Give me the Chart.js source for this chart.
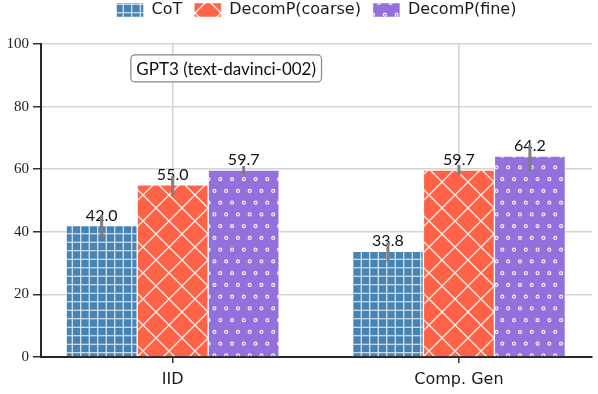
<!DOCTYPE html>
<html>
<head>
<meta charset="utf-8">
<script src="https://cdn.jsdelivr.net/npm/chart.js@4.4.0/dist/chart.umd.min.js"></script>
<style>
  html, body { margin: 0; padding: 0; background: #fff; }
</style>
</head>
<body>
<canvas id="chart" width="598" height="394"></canvas>
<script>
const categories = ["IID", "Comp. Gen"];
const methods = ["CoT", "DecomP(coarse)", "DecomP(fine)"];
const cotValues = [42.0, 33.8];
const coarseValues = [55.0, 59.7];
const fineValues = [59.7, 64.2];
const cotLow = [38.3, 30.4];
const cotHigh = [45.4, 36.5];
const coarseLow = [51.4, 58.1];
const coarseHigh = [57.8, 61.3];
const fineLow = [58.1, 59.2];
const fineHigh = [61.0, 67.7];
const yTicks = [0, 20, 40, 60, 80, 100];
const noteText = "GPT3 (text-davinci-002)";

const LATO = "Lato, 'DejaVu Sans', sans-serif";
const DEJAVU = "'DejaVu Sans', sans-serif";
const SERIF = "'Liberation Serif', 'DejaVu Serif', serif";

function makeTile(size, base, draw) {
  const c = document.createElement("canvas");
  c.width = size;
  c.height = size;
  const g = c.getContext("2d");
  g.fillStyle = base;
  g.fillRect(0, 0, size, size);
  g.strokeStyle = "rgba(255,255,255,0.9)";
  draw(g, size);
  return g.createPattern(c, "repeat");
}

const plusHatch = (base) => makeTile(17, base, (g) => {
  g.lineWidth = 1.1;
  g.beginPath();
  [4.25, 12.75].forEach((p) => {
    g.moveTo(p, 0); g.lineTo(p, 17);
    g.moveTo(0, p); g.lineTo(17, p);
  });
  g.stroke();
});

const crossHatch = (base) => makeTile(26, base, (g, s) => {
  g.lineWidth = 1.3;
  g.beginPath();
  g.moveTo(-2, -2); g.lineTo(s + 2, s + 2);
  g.moveTo(-2, s + 2); g.lineTo(s + 2, -2);
  g.stroke();
});

const dotHatch = (base) => makeTile(47, base, (g, s) => {
  const step = s / 4;
  g.lineWidth = 1.2;
  for (let r = 0; r <= 4; r++) {
    for (let k = -1; k <= 4; k++) {
      const x = k * step + (r % 2 ? step / 2 : 0) + step / 4;
      const y = r * step + step / 4;
      g.beginPath();
      g.arc(x, y, 1.5, 0, Math.PI * 2);
      g.stroke();
    }
  }
});

const series = [
  { values: cotValues, low: cotLow, high: cotHigh, bg: plusHatch("#4682b4") },
  { values: coarseValues, low: coarseLow, high: coarseHigh, bg: crossHatch("#ff6347") },
  { values: fineValues, low: fineLow, high: fineHigh, bg: dotHatch("#9370db") }
];

const barExtras = {
  id: "barExtras",
  afterDatasetsDraw(chart) {
    const { ctx, scales } = chart;
    ctx.save();
    series.forEach((s, i) => {
      const meta = chart.getDatasetMeta(i);
      meta.data.forEach((bar, j) => {
        ctx.fillStyle = "#111";
        ctx.font = "16px " + LATO;
        ctx.textAlign = "center";
        ctx.textBaseline = "alphabetic";
        ctx.fillText(s.values[j].toFixed(1), bar.x, bar.y - 5);
      });
    });
    series.forEach((s, i) => {
      const meta = chart.getDatasetMeta(i);
      meta.data.forEach((bar, j) => {
        ctx.strokeStyle = "#7f7f7f";
        ctx.lineWidth = 3;
        ctx.beginPath();
        ctx.moveTo(bar.x, scales.y.getPixelForValue(s.low[j]));
        ctx.lineTo(bar.x, scales.y.getPixelForValue(s.high[j]));
        ctx.stroke();
      });
    });

    // text box in the upper left
    const cx = scales.x.getPixelForValue(0.187);
    const cy = scales.y.getPixelForValue(92.2);
    ctx.font = "17px " + LATO;
    const w = ctx.measureText(noteText).width + 11;
    const h = 27;
    ctx.beginPath();
    ctx.roundRect(cx - w / 2, cy - h / 2, w, h, 4);
    ctx.fillStyle = "#fff";
    ctx.fill();
    ctx.strokeStyle = "#888";
    ctx.lineWidth = 1.2;
    ctx.stroke();
    ctx.fillStyle = "#111";
    ctx.textAlign = "center";
    ctx.textBaseline = "middle";
    ctx.fillText(noteText, cx, cy + 1);
    ctx.restore();
  }
};

const legendHeight = {
  id: "legendHeight",
  beforeInit(chart) {
    const fit = chart.legend.fit;
    chart.legend.fit = function () {
      fit.call(this);
      this.height = 54;
    };
  }
};

new Chart(document.getElementById("chart"), {
  type: "bar",
  data: {
    datasets: series.map((s, i) => ({
      label: methods[i],
      data: s.values.map((v, j) => ({ x: j, y: v })),
      backgroundColor: s.bg,
      borderColor: "rgba(255,255,255,0.5)",
      borderWidth: 1,
      barThickness: 71
    }))
  },
  options: {
    responsive: false,
    animation: false,
    layout: { padding: { top: -10, right: 6, left: 0, bottom: 0 } },
    plugins: {
      legend: {
        position: "top",
        fullSize: false,
        labels: {
          boxWidth: 27,
          boxHeight: 14,
          padding: 12,
          color: "#1a1a1a",
          font: { family: DEJAVU, size: 16 }
        }
      },
      tooltip: { enabled: false }
    },
    scales: {
      x: {
        type: "linear",
        min: -0.46,
        max: 1.465,
        offset: false,
        afterBuildTicks: (s) => { s.ticks = categories.map((_, i) => ({ value: i })); },
        afterFit: (s) => { s.height = 37; },
        ticks: {
          callback: (v) => categories[v],
          color: "#1a1a1a",
          padding: 7,
          maxRotation: 0,
          font: { family: DEJAVU, size: 16 }
        },
        grid: { offset: false, color: "#d4d4d4", lineWidth: 1.5, tickColor: "#333", tickLength: 6, tickWidth: 1.5 },
        border: { color: "#262626", width: 2 }
      },
      y: {
        min: 0,
        max: 100,
        afterBuildTicks: (s) => { s.ticks = yTicks.map((v) => ({ value: v })); },
        afterFit: (s) => { s.width = 41; },
        ticks: {
          color: "#222",
          padding: 4,
          font: { family: SERIF, size: 15 }
        },
        grid: { color: "#d4d4d4", lineWidth: 1.5, tickColor: "#333", tickLength: 8, tickWidth: 1.5 },
        border: { color: "#262626", width: 2 }
      }
    }
  },
  plugins: [legendHeight, barExtras]
});
</script>
</body>
</html>
